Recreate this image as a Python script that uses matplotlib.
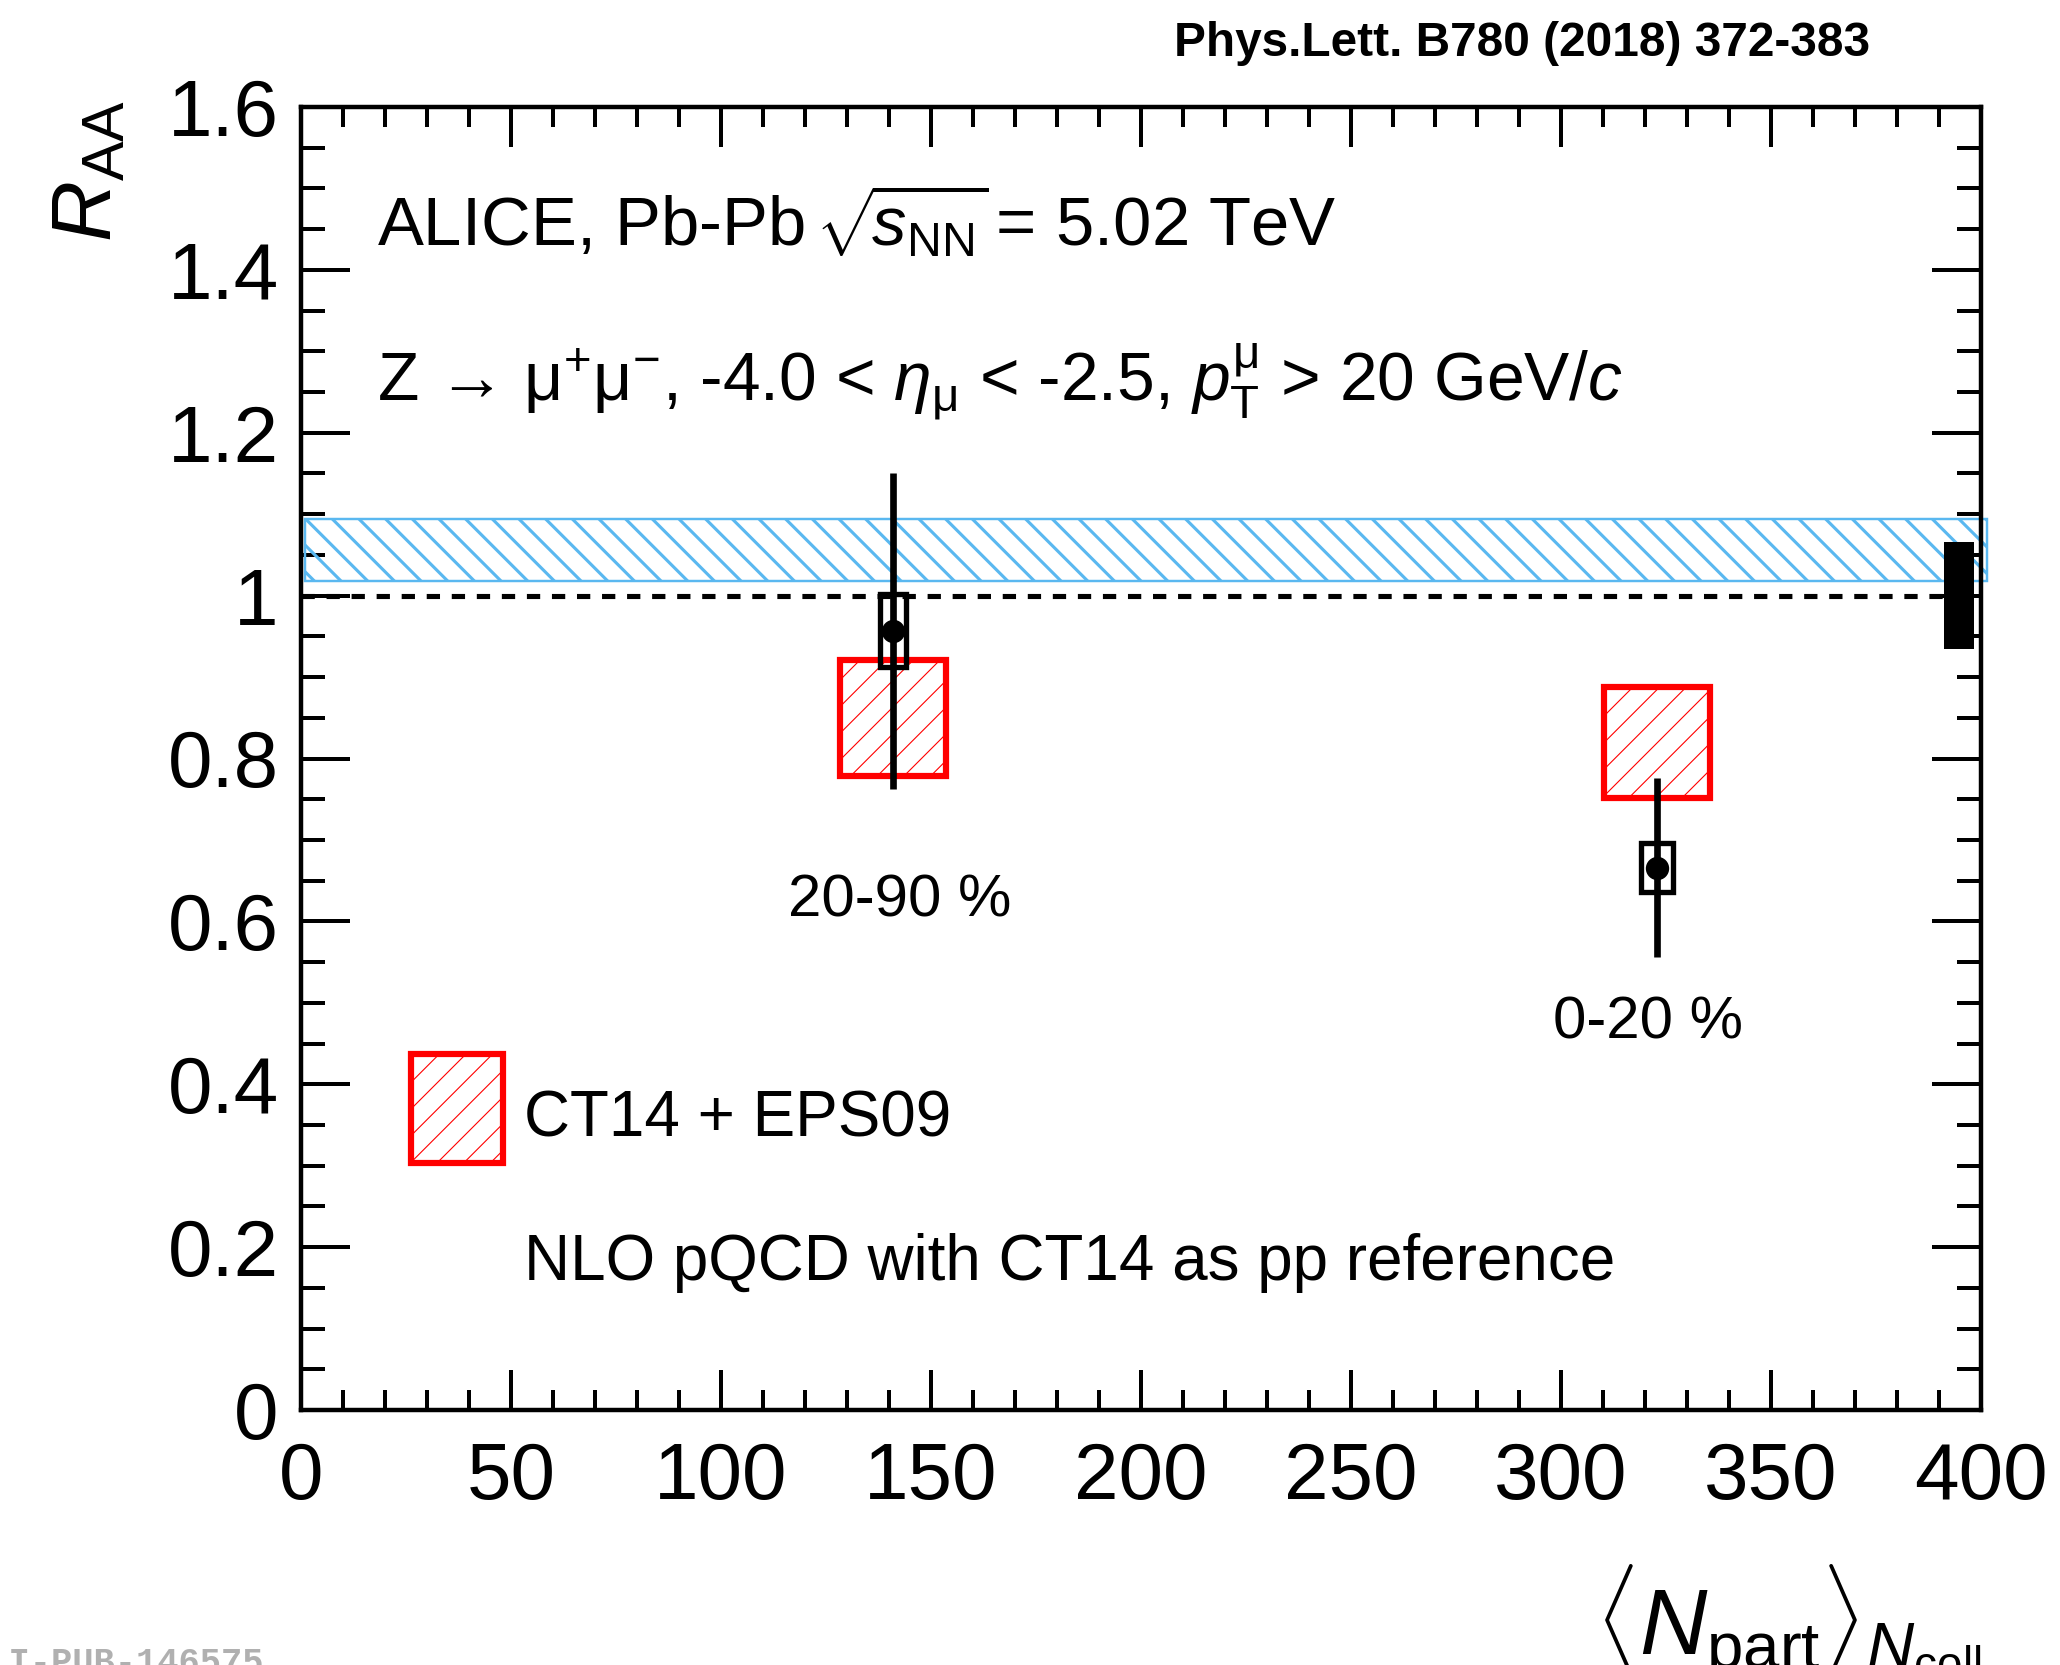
import numpy as np
import matplotlib
matplotlib.use('Agg')
import matplotlib.pyplot as plt
from matplotlib.patches import Rectangle

plt.rcParams['font.family'] = ['Liberation Sans', 'DejaVu Sans']
plt.rcParams['mathtext.fontset'] = 'custom'
plt.rcParams['mathtext.rm'] = 'Liberation Sans'
plt.rcParams['mathtext.it'] = 'Liberation Sans:italic'
plt.rcParams['mathtext.bf'] = 'Liberation Sans:bold'

# Z boson R_AA vs <Npart>, two centrality classes
npart = [141.0, 322.9]
raa = [0.957, 0.666]
stat = [0.194, 0.110]
syst = [0.045, 0.030]
syst_dx = [3.1, 3.8]
cent_labels = ['20-90 %', '0-20 %']
label_x = [142.6, 320.7]
label_y = [0.625, 0.475]

# CT14 + EPS09 model boxes
model_lo = [0.779, 0.751]
model_hi = [0.921, 0.888]
model_dx = 12.6

# pp reference band (NLO pQCD with CT14) and global uncertainty box
ref_lo, ref_hi = 1.018, 1.094
glob_x, glob_dx = 394.8, 3.6
glob_lo, glob_hi = 0.934, 1.066

blue = '#5ab8f0'
dpi = 160
fig = plt.figure(figsize=(2060 / dpi, 1665 / dpi), dpi=dpi)
ax = fig.add_axes([301 / 2060, 1 - 1410 / 1665, 1680 / 2060, 1303 / 1665])
ax.set_xlim(0, 400)
ax.set_ylim(0, 1.6)

# reference band
with plt.rc_context({'hatch.linewidth': 1.4}):
    band = Rectangle((1, ref_lo), 400.5, ref_hi - ref_lo, facecolor='none',
                     edgecolor=blue, hatch='\\\\', lw=1.1, clip_on=False, zorder=2)
    ax.add_patch(band)

ax.plot([0, 400], [1, 1], color='black', lw=2.3, dashes=(2.6, 2.3), zorder=3)

# model boxes
for i in range(len(npart)):
    with plt.rc_context({'hatch.linewidth': 0.5}):
        r = Rectangle((npart[i] - model_dx, model_lo[i]), 2 * model_dx,
                      model_hi[i] - model_lo[i], facecolor='none',
                      edgecolor='red', hatch='//', lw=2.8, zorder=3)
        ax.add_patch(r)

# global box
ax.add_patch(Rectangle((glob_x - glob_dx, glob_lo), 2 * glob_dx, glob_hi - glob_lo,
                       facecolor='black', edgecolor='black', lw=0, zorder=4))

# data
for i in range(len(npart)):
    ax.add_patch(Rectangle((npart[i] - syst_dx[i], raa[i] - syst[i]), 2 * syst_dx[i],
                           2 * syst[i], facecolor='none', edgecolor='black', lw=2.4, zorder=5))
ax.errorbar(npart, raa, yerr=stat, fmt='o', color='black', ms=9.5, elinewidth=3.0,
            capsize=0, zorder=6)

for i in range(len(npart)):
    ax.text(label_x[i], label_y[i], cent_labels[i], ha='center', va='center', fontsize=27)

# legend
with plt.rc_context({'hatch.linewidth': 0.5}):
    ax.add_patch(Rectangle((26.2, 0.303), 21.9, 0.134, facecolor='none', edgecolor='red',
                           hatch='//', lw=2.8, zorder=3))
ax.text(53, 0.357, 'CT14 + EPS09', ha='left', va='center', fontsize=28.7)
ax.text(53, 0.18, 'NLO pQCD with CT14 as pp reference', ha='left', va='center', fontsize=28.7)

# header texts
ax.text(18, 1.429, r'ALICE, Pb-Pb $\!\sqrt{\!s_{\mathrm{NN}}}\!$ = 5.02 TeV', ha='left',
        va='baseline', fontsize=31)
ax.text(18, 1.239, 'Z \u2192 ' + r'$\mathrm{\mu^{+}\mu^{-}}$, -4.0 < $\eta_{\mathrm{\mu}}$ < -2.5, '
        r'$p_{\mathrm{T}}^{\mathrm{\mu}}$ > 20 GeV/$c$', ha='left', va='baseline', fontsize=30.5)

# axes styling
ax.set_xticks(np.arange(0, 401, 50))
ax.set_xticks(np.arange(0, 401, 10), minor=True)
ax.set_yticks(np.arange(0, 1.61, 0.2))
ax.set_yticks(np.arange(0, 1.61, 0.05), minor=True)
ax.set_yticklabels(['0', '0.2', '0.4', '0.6', '0.8', '1', '1.2', '1.4', '1.6'])
ax.tick_params(which='both', direction='in', top=True, right=True, width=1.8,
               labelsize=36)
ax.tick_params(axis='y', which='major', length=22, pad=10)
ax.tick_params(axis='y', which='minor', length=11)
ax.tick_params(axis='x', which='major', length=18, pad=14)
ax.tick_params(axis='x', which='minor', length=9)
for s in ax.spines.values():
    s.set_linewidth(2.0)

fig.text(90 / 2060, 1 - 100 / 1665, r'$R_{\mathrm{AA}}$', rotation=90, ha='center',
         va='top', fontsize=38)
fig.text(1981 / 2060, 1 - 1562 / 1665,
         r'$\langle N_{\mathrm{part}}\rangle_{N_{\mathrm{coll}}}$', ha='right', va='top',
         fontsize=42)
fig.text(1870 / 2060, 1 - 43 / 1665, 'Phys.Lett. B780 (2018) 372-383', ha='right',
         va='center', fontsize=21.5, fontweight='bold')
fig.text(-34 / 2060, 1 - 1646 / 1665, 'ALI-PUB-146575', ha='left', va='top', fontsize=16,
         color='#b0b0b0', family='Liberation Mono', fontweight='bold')

fig.savefig('out.png', dpi=dpi)
